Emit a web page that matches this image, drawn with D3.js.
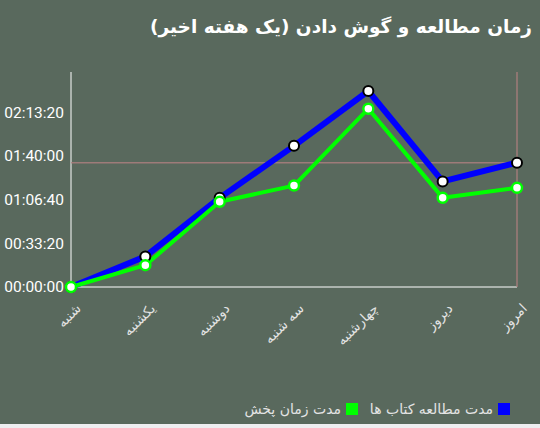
<!DOCTYPE html>
<html lang="fa">
<head>
    <meta charset="UTF-8">
    <title>زمان مطالعه و گوش دادن</title>
    <style>
        body {
            margin: 0;
            background-color: #eeeef0;
        }

        #chart {
            display: block;
            background-color: #59695d;
        }

        .axis path, .axis line {
            stroke: #fff;
        }

        .y-axis text {
            fill: #fff;
            font-family: Roboto, sans-serif;
            font-size: 15.5px;
        }

        .x-axis text {
            fill: #e4e4e4;
            font-family: "DejaVu Sans", sans-serif;
            font-size: 13.5px;
        }

        .legend text {
            fill: #e4e4e4;
            font-family: "DejaVu Sans", sans-serif;
            font-size: 14px;
        }
    </style>
</head>
<body>
    <svg id="chart" width="540" height="424"></svg>

    <script src="https://d3js.org/d3.v7.min.js"></script>
    <script>
        // days of the week, oldest first
        const days = ["شنبه", "یکشنبه", "دوشنبه", "سه شنبه", "چهارشنبه", "دیروز", "امروز"];
        // seconds
        const readingTime = [0, 1400, 4080, 6460, 8970, 4830, 5690];
        const playTime = [0, 1000, 3900, 4640, 8160, 4080, 4540];
        const yTicks = [0, 2000, 4000, 6000, 8000];
        const seriesNames = ["مدت مطالعه کتاب ها", "مدت زمان پخش"];
        const seriesColors = ["#0000ff", "#00ff00"];

        const svg = d3.select("#chart");
        const plotLeft = 71, plotRight = 517, plotTop = 72, plotBottom = 287;

        const x = d3.scalePoint()
            .domain(days)
            .range([plotLeft, plotRight]);

        const y = d3.scaleLinear()
            .domain([0, 9840])
            .range([plotBottom, plotTop]);

        function fmt(s) {
            const h = Math.floor(s / 3600), m = Math.floor(s % 3600 / 60), sec = s % 60;
            return [h, m, sec].map(v => String(v).padStart(2, "0")).join(":");
        }

        // title
        svg.append("text")
            .attr("x", 532)
            .attr("y", 33)
            .attr("text-anchor", "start")
            .attr("direction", "rtl")
            .style("font-family", "'DejaVu Sans', sans-serif")
            .style("font-weight", "bold")
            .style("font-size", "18.5px")
            .style("fill", "#fff")
            .text("زمان مطالعه و گوش دادن (یک هفته اخیر)");

        // y axis
        const yAxis = svg.append("g")
            .attr("class", "axis y-axis")
            .attr("transform", `translate(${plotLeft},0)`)
            .call(d3.axisLeft(y).tickValues(yTicks).tickFormat(fmt).tickSize(0).tickPadding(7));
        yAxis.select(".domain").attr("d", `M0,${plotTop}V${plotBottom}`);

        // x axis
        const xAxis = svg.append("g")
            .attr("class", "axis x-axis")
            .attr("transform", `translate(0,${plotBottom})`)
            .call(d3.axisBottom(x).tickSize(0));
        xAxis.select(".domain").attr("d", `M${plotLeft},0H${plotRight}`);
        xAxis.selectAll("text")
            .attr("text-anchor", "end")
            .attr("y", 0)
            .attr("dy", "0.35em")
            .attr("transform", "translate(7,19) rotate(-45)");

        // crosshair on the last point
        const last = days.length - 1;
        svg.append("line")
            .attr("x1", x(days[last])).attr("x2", x(days[last]))
            .attr("y1", plotTop).attr("y2", plotBottom)
            .style("stroke", "#b08080").style("stroke-width", 1.5).style("opacity", 0.8);
        svg.append("line")
            .attr("x1", plotLeft).attr("x2", plotRight)
            .attr("y1", y(readingTime[last])).attr("y2", y(readingTime[last]))
            .style("stroke", "#b08080").style("stroke-width", 1.5).style("opacity", 0.8);

        const line = d3.line()
            .x((d, i) => x(days[i]))
            .y(d => y(d));

        // blue series
        svg.append("path")
            .datum(readingTime)
            .attr("d", line)
            .style("fill", "none")
            .style("stroke", seriesColors[0])
            .style("stroke-width", 6)
            .style("stroke-linejoin", "round");

        // green series
        svg.append("path")
            .datum(playTime)
            .attr("d", line)
            .style("fill", "none")
            .style("stroke", seriesColors[1])
            .style("stroke-width", 4)
            .style("stroke-linejoin", "round");

        svg.selectAll(".dot-a")
            .data(readingTime)
            .enter()
            .append("circle")
            .attr("cx", (d, i) => x(days[i]))
            .attr("cy", d => y(d))
            .attr("r", 5)
            .style("fill", "#fff")
            .style("stroke", "#000")
            .style("stroke-width", 2);

        svg.selectAll(".dot-b")
            .data(playTime)
            .enter()
            .append("circle")
            .attr("cx", (d, i) => x(days[i]))
            .attr("cy", d => y(d))
            .attr("r", 5)
            .style("fill", "#fff")
            .style("stroke", seriesColors[1])
            .style("stroke-width", 2.5);

        // legend (right to left)
        const legend = svg.append("g").attr("class", "legend");
        const legendItems = [
            { sq: 498, tx: 493 },
            { sq: 346, tx: 341 }
        ];
        legendItems.forEach((p, i) => {
            legend.append("rect")
                .attr("x", p.sq).attr("y", 403)
                .attr("width", 12).attr("height", 12)
                .style("fill", seriesColors[i]);
            legend.append("text")
                .attr("x", p.tx).attr("y", 414)
                .attr("direction", "rtl")
                .attr("text-anchor", "start")
                .text(seriesNames[i]);
        });
    </script>
</body>
</html>
